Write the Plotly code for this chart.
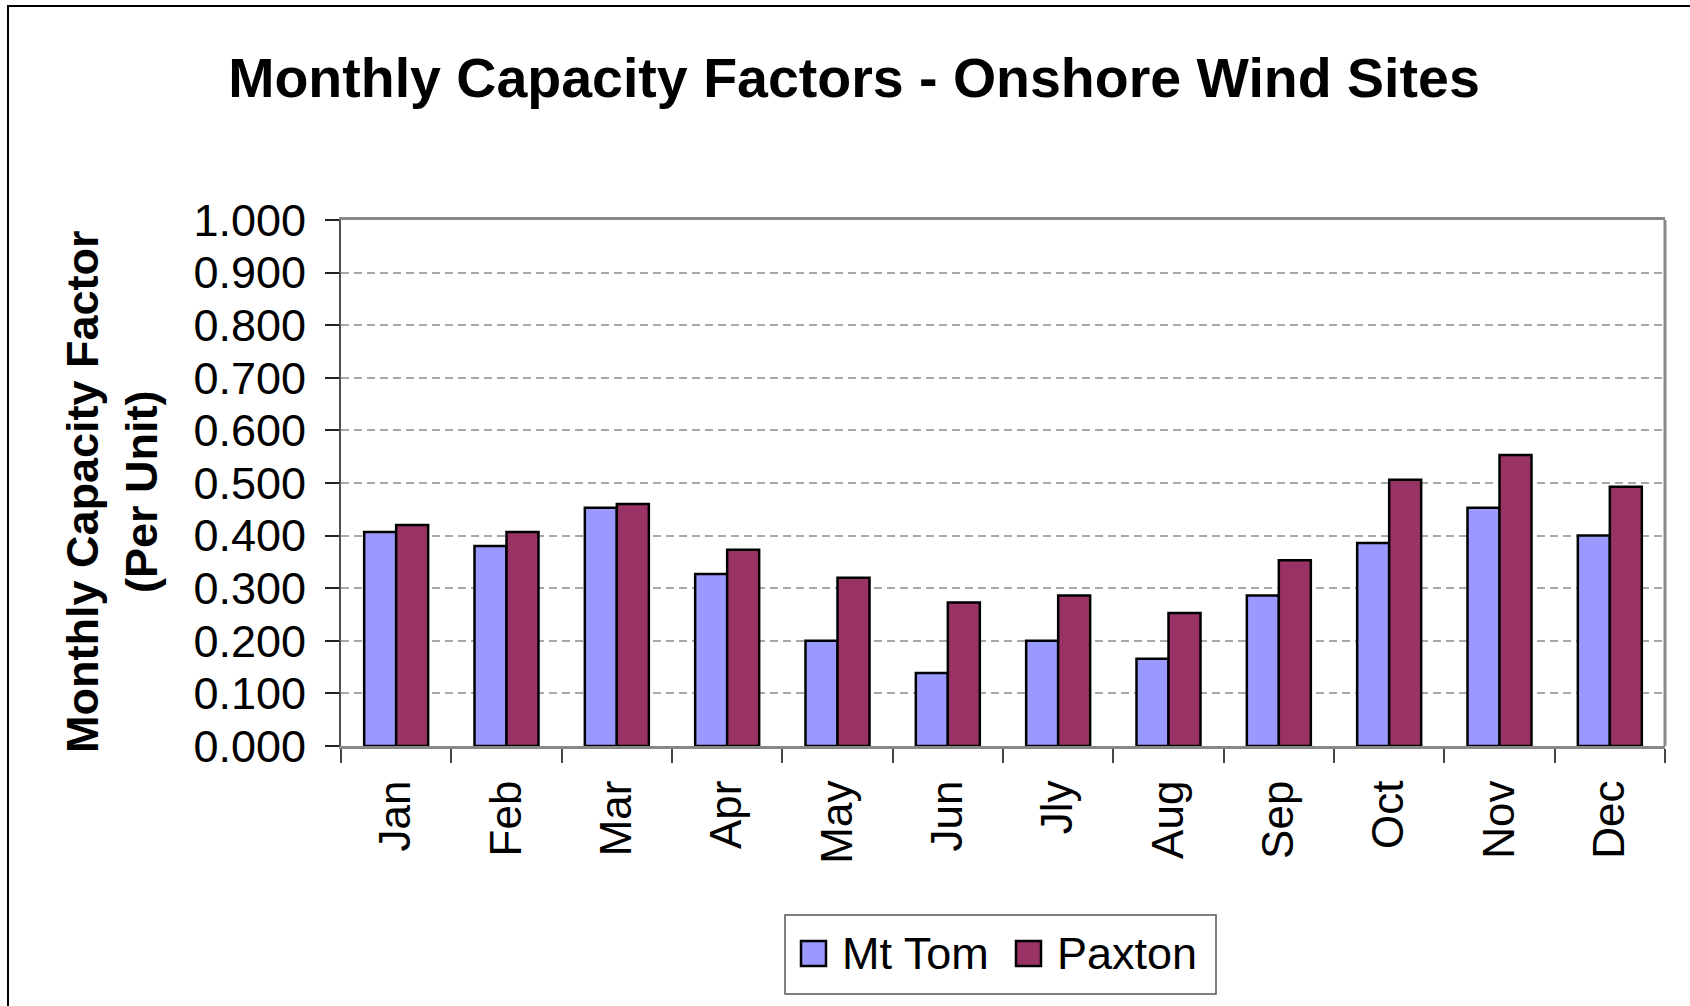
import plotly.graph_objects as go

months = ["Jan", "Feb", "Mar", "Apr", "May", "Jun", "Jly", "Aug", "Sep", "Oct", "Nov", "Dec"]
mt_tom = [0.407, 0.380, 0.453, 0.327, 0.200, 0.139, 0.200, 0.166, 0.286, 0.386, 0.453, 0.400]
paxton = [0.420, 0.407, 0.460, 0.373, 0.320, 0.273, 0.286, 0.253, 0.353, 0.506, 0.553, 0.493]
series_names = ["Mt Tom", "Paxton"]
series_colors = ["#9999FF", "#993366"]
y_ticks = [0.0, 0.1, 0.2, 0.3, 0.4, 0.5, 0.6, 0.7, 0.8, 0.9, 1.0]

FONT = "Liberation Sans, Arial, sans-serif"
W, H = 1690, 1006
L, R, T, B = 341, 1665, 220, 746
PW, PH = R - L, B - T


def px(x):
    return (x - L) / PW


def py(y):
    return (B - y) / PH


fig = go.Figure()
for name, vals, col in zip(series_names, [mt_tom, paxton], series_colors):
    fig.add_trace(go.Bar(
        x=months, y=vals, name=name,
        marker=dict(color=col, line=dict(color="black", width=2.5)),
        showlegend=False,
    ))

shapes = [
    # outer chart border
    dict(type="rect", xref="paper", yref="paper", x0=px(8), x1=px(1720), y0=py(6), y1=py(1030),
         line=dict(color="black", width=2), fillcolor="rgba(0,0,0,0)", layer="below"),
    # right border of plot area
    dict(type="line", xref="paper", yref="paper", x0=1, x1=1, y0=0, y1=1,
         line=dict(color="#888888", width=3)),
    # legend box
    dict(type="rect", xref="paper", yref="paper", x0=px(785), x1=px(1216), y0=py(915), y1=py(994),
         line=dict(color="#555555", width=1.5), fillcolor="white"),
]
annotations = [
    dict(text="Monthly Capacity Factor<br>(Per Unit)", xref="paper", yref="paper",
         x=px(112), y=py(492), xanchor="center", yanchor="middle", textangle=-90,
         showarrow=False, font=dict(family=FONT, size=45, color="black", weight="bold")),
]
# legend entries
leg = [(801, 840), (1016, 1055)]
for (sx, tx), name, col in zip(leg, series_names, series_colors):
    shapes.append(dict(type="rect", xref="paper", yref="paper", x0=px(sx), x1=px(sx + 25),
                       y0=py(941), y1=py(966), line=dict(color="black", width=2.5), fillcolor=col))
    annotations.append(dict(text=name, xref="paper", yref="paper", x=px(tx), y=py(953),
                            xanchor="left", yanchor="middle", showarrow=False,
                            font=dict(family=FONT, size=45, color="black")))

fig.update_layout(
    width=W, height=H,
    margin=dict(l=L, r=W - R, t=T, b=H - B, pad=0, autoexpand=False),
    paper_bgcolor="white", plot_bgcolor="white",
    title=dict(text="<b>Monthly Capacity Factors - Onshore Wind Sites</b>",
               x=854 / W, xref="container", xanchor="center",
               y=1 - 78 / H, yref="container", yanchor="middle",
               font=dict(family=FONT, size=55.5, color="black")),
    bargap=0.42, bargroupgap=0, barmode="group",
    font=dict(family=FONT, color="black"),
    shapes=shapes, annotations=annotations,
)
fig.update_xaxes(
    type="category", showline=True, linecolor="#888888", linewidth=3, mirror=True,
    ticks="outside", tickson="boundaries", ticklen=14, tickwidth=1.5, tickcolor="#444444",
    tickangle=-90, tickfont=dict(family=FONT, size=44, color="black"),
    ticklabelstandoff=14, showgrid=False,
)
fig.update_yaxes(
    range=[0, 1], tickvals=y_ticks, tickformat=".3f",
    showline=True, linecolor="#505050", linewidth=2,
    ticks="outside", ticklen=14, tickwidth=1.5, tickcolor="#222222",
    tickfont=dict(family=FONT, size=45, color="black"), ticklabelstandoff=10,
    showgrid=True, gridcolor="#a8a8a8", gridwidth=1.5, griddash="8px,5px",
    zeroline=False,
)
fig.write_html("out.html", config={"displayModeBar": False},
               post_script="document.body.style.margin='0';")
